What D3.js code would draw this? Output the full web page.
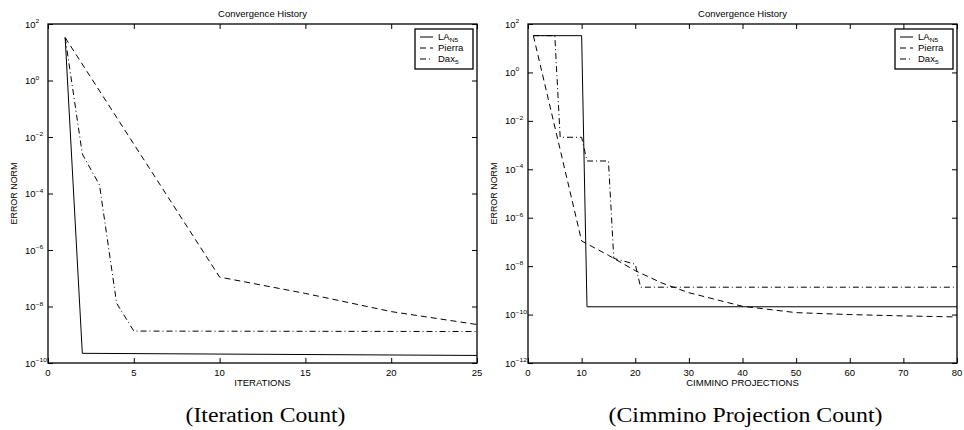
<!DOCTYPE html>
<html>
<head>
<meta charset="utf-8">
<script src="https://cdn.jsdelivr.net/npm/d3@7"></script>
<style>
  body { margin: 0; background: #fff; }
  svg { display: block; }
  .axis path { display: none; }
  .axis line { stroke: #000; stroke-width: 1; }
</style>
</head>
<body>
<div id="chart"></div>
<script>
// ---- data ----
// left panel: error vs iteration
var itLA = [1, 2, 25];
var errItLA = [33, 2.2e-10, 1.85e-10];
var itPierra = [1, 10, 15, 20, 25];
var errItPierra = [33, 1.1e-7, 2.9e-8, 6.6e-9, 2.3e-9];
var itDax = [1, 2, 3, 4, 5, 25];
var errItDax = [33, 2.5e-3, 2e-4, 1.3e-8, 1.35e-9, 1.3e-9];

// right panel: error vs cimmino projections
var cpLA = [1, 10, 11, 80];
var errCpLA = [33, 33, 2.1e-10, 2.1e-10];
var cpPierra = [1, 10, 15, 20, 25, 30, 40, 50, 60, 70, 80];
var errCpPierra = [33, 1.1e-7, 2.8e-8, 6.5e-9, 2e-9, 8e-10, 2.2e-10, 1.2e-10, 1e-10, 8.8e-11, 8e-11];
var cpDax = [1, 5, 6, 10, 11, 15, 16, 20, 21, 80];
var errCpDax = [33, 33, 2.1e-3, 2.1e-3, 2.2e-4, 2.2e-4, 2.1e-8, 1.2e-8, 1.35e-9, 1.35e-9];

var seriesNames = ["LA", "Pierra", "Dax"];
var seriesSubs = ["N5", "", "5"];
var dashes = [null, "6,4", "6,3,1,3"];

var leftXTicks = [0, 5, 10, 15, 20, 25];
var rightXTicks = [0, 10, 20, 30, 40, 50, 60, 70, 80];
var leftYExp = [2, 0, -2, -4, -6, -8, -10];
var rightYExp = [2, 0, -2, -4, -6, -8, -10, -12];

var W = 964, H = 430;
var SX = 1.12; // the figure is a bit stretched horizontally

var svg = d3.select("#chart").append("svg")
    .attr("width", W)
    .attr("height", H);

function txt(parent, x, y, s, size, anchor, sx) {
    return parent.append("text")
        .attr("transform", "translate(" + x + "," + y + ") scale(" + (sx || SX) + ",1)")
        .attr("font-family", "'Liberation Sans', Arial, sans-serif")
        .attr("font-size", size)
        .attr("text-anchor", anchor || "start")
        .attr("fill", "#000")
        .text(s);
}

function drawPanel(opt) {
    var x = d3.scaleLinear().domain(opt.xDomain).range([opt.x0, opt.x1]);
    var y = d3.scaleLog().domain([Math.pow(10, opt.yExp[opt.yExp.length - 1]), 100]).range([opt.y1, opt.y0]);
    var g = svg.append("g");

    var yTicks = opt.yExp.map(function(e) { return Math.pow(10, e); });

    // inward ticks on all four sides
    g.append("g").attr("class", "axis")
        .attr("transform", "translate(0," + opt.y1 + ")")
        .call(d3.axisBottom(x).tickValues(opt.xTicks).tickSize(-5).tickSizeOuter(0).tickFormat(""));
    g.append("g").attr("class", "axis")
        .attr("transform", "translate(0," + opt.y0 + ")")
        .call(d3.axisTop(x).tickValues(opt.xTicks).tickSize(-5).tickSizeOuter(0).tickFormat(""));
    g.append("g").attr("class", "axis")
        .attr("transform", "translate(" + opt.x0 + ",0)")
        .call(d3.axisLeft(y).tickValues(yTicks).tickSize(-5).tickSizeOuter(0).tickFormat(""));
    g.append("g").attr("class", "axis")
        .attr("transform", "translate(" + opt.x1 + ",0)")
        .call(d3.axisRight(y).tickValues(yTicks).tickSize(-5).tickSizeOuter(0).tickFormat(""));

    // x tick labels
    opt.xTicks.forEach(function(t) {
        txt(g, x(t), opt.y1 + 12.5, String(t), 8.5, "middle");
    });
    // y tick labels 10^e
    opt.yExp.forEach(function(e) {
        var t = txt(g, opt.x0 - 23, y(Math.pow(10, e)) + 3.5, "10", 8.5, "start");
        t.append("tspan")
            .attr("dy", -4.5)
            .attr("font-size", 6)
            .text(e < 0 ? "\u2212" + (-e) : String(e));
    });

    // series
    var line = d3.line()
        .x(function(d) { return x(d[0]); })
        .y(function(d) { return y(d[1]); });

    opt.series.forEach(function(s, i) {
        var pts = s[0].map(function(v, k) { return [v, s[1][k]]; });
        g.append("path")
            .datum(pts)
            .attr("fill", "none")
            .attr("stroke", "#000")
            .attr("stroke-width", 1)
            .attr("stroke-dasharray", dashes[i])
            .attr("d", line);
    });

    // frame
    g.append("rect")
        .attr("x", opt.x0).attr("y", opt.y0)
        .attr("width", opt.x1 - opt.x0).attr("height", opt.y1 - opt.y0)
        .attr("fill", "none").attr("stroke", "#000").attr("stroke-width", 1.3);

    // title and axis labels
    var cx = (opt.x0 + opt.x1) / 2;
    txt(g, cx, 16.5, "Convergence History", 8.5, "middle");
    txt(g, cx, 386, opt.xLabel, 8.5, "middle");
    g.append("text")
        .attr("transform", "translate(" + (opt.x0 - 31) + "," + ((opt.y0 + opt.y1) / 2) + ") rotate(-90) scale(1.05,1)")
        .attr("font-family", "'Liberation Sans', Arial, sans-serif")
        .attr("font-size", 8.5)
        .attr("text-anchor", "middle")
        .text("ERROR NORM");

    // legend
    var lg = g.append("g").attr("transform", "translate(" + (opt.x1 - 62) + "," + (opt.y0 + 5) + ")");
    lg.append("rect")
        .attr("x", 0).attr("y", 0).attr("width", 58).attr("height", 40)
        .attr("fill", "#fff").attr("stroke", "#000").attr("stroke-width", 1.3);
    seriesNames.forEach(function(n, i) {
        var yy = 8 + i * 11;
        lg.append("line")
            .attr("x1", 5).attr("x2", 18).attr("y1", yy).attr("y2", yy)
            .attr("stroke", "#000").attr("stroke-width", 1)
            .attr("stroke-dasharray", dashes[i]);
        var t = txt(lg, 23, yy + 2.5, n, 8.5, "start");
        if (seriesSubs[i]) {
            t.append("tspan").attr("dy", 2.5).attr("font-size", 6).text(seriesSubs[i]);
        }
    });

    // caption
    g.append("text")
        .attr("x", cx + 3).attr("y", 422)
        .attr("font-family", "'Liberation Serif', 'Times New Roman', serif")
        .attr("font-size", 20)
        .attr("text-anchor", "middle")
        .attr("textLength", opt.captionW)
        .attr("lengthAdjust", "spacingAndGlyphs")
        .text(opt.caption);
}

drawPanel({
    x0: 48, x1: 477, y0: 24, y1: 363,
    xDomain: [0, 25], xTicks: leftXTicks, yExp: leftYExp,
    xLabel: "ITERATIONS",
    caption: "(Iteration Count)", captionW: 160,
    series: [[itLA, errItLA], [itPierra, errItPierra], [itDax, errItDax]]
});

drawPanel({
    x0: 528, x1: 957, y0: 24, y1: 363,
    xDomain: [0, 80], xTicks: rightXTicks, yExp: rightYExp,
    xLabel: "CIMMINO PROJECTIONS",
    caption: "(Cimmino Projection Count)", captionW: 274,
    series: [[cpLA, errCpLA], [cpPierra, errCpPierra], [cpDax, errCpDax]]
});
</script>
</body>
</html>
